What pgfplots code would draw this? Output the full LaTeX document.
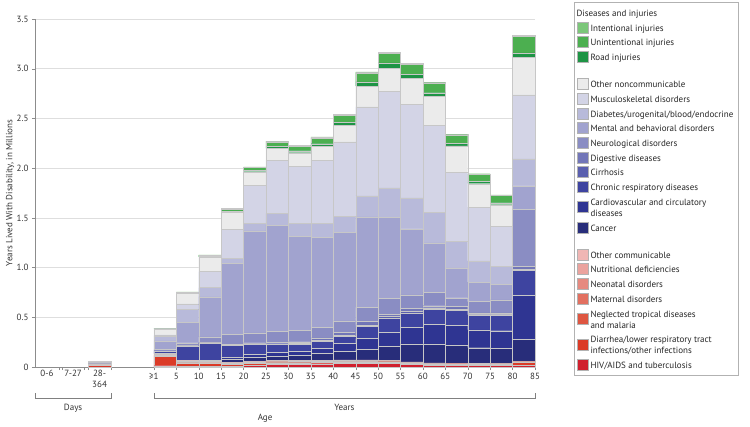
\documentclass[border=0pt]{standalone}
\usepackage{pgfplots}
\pgfplotsset{compat=1.18}
\usepackage{pgfplotstable}
\usepackage{fontspec}
\setmainfont{PT Sans}

\definecolor{cInt}{HTML}{7CC77A}
\definecolor{cUni}{HTML}{4CAF50}
\definecolor{cRoad}{HTML}{1E9445}
\definecolor{cOnc}{HTML}{EBEBEB}
\definecolor{cMus}{HTML}{D3D4E6}
\definecolor{cDia}{HTML}{B8BADA}
\definecolor{cMen}{HTML}{A1A3CF}
\definecolor{cNeu}{HTML}{8A8DC3}
\definecolor{cDig}{HTML}{7276B8}
\definecolor{cCir}{HTML}{5A5FAE}
\definecolor{cRes}{HTML}{3E44A0}
\definecolor{cCar}{HTML}{2F3592}
\definecolor{cCan}{HTML}{282D7A}
\definecolor{cOco}{HTML}{F0B6B4}
\definecolor{cNut}{HTML}{EBA39E}
\definecolor{cNeo}{HTML}{E68A80}
\definecolor{cMat}{HTML}{E27060}
\definecolor{cNtd}{HTML}{DE5641}
\definecolor{cDir}{HTML}{DB3B27}
\definecolor{cHiv}{HTML}{D0202E}

% YLD in millions, one row per age group (x = bar centre)
\pgfplotstableread{
x    hiv   diar  ntd   mat   neo   nut   ocom  canc  card  resp  cirr  dige  neur  ment  diab  musc  oncd  road  unin  inte
2.88 0.002 0.012 0.000 0.000 0.003 0.005 0.003 0.001 0.002 0.003 0.000 0.001 0.005 0.005 0.006 0.003 0.008 0.000 0.001 0.000
5.8  0.013 0.095 0.010 0.000 0.003 0.006 0.008 0.004 0.004 0.018 0.001 0.002 0.014 0.085 0.050 0.010 0.060 0.001 0.003 0.000
6.8  0.012 0.030 0.005 0.000 0.003 0.008 0.005 0.003 0.004 0.140 0.002 0.005 0.027 0.208 0.131 0.053 0.104 0.004 0.010 0.001
7.8  0.012 0.022 0.002 0.001 0.002 0.005 0.006 0.010 0.010 0.170 0.003 0.006 0.053 0.403 0.094 0.161 0.148 0.005 0.012 0.003
8.8  0.012 0.015 0.003 0.006 0.002 0.006 0.006 0.028 0.020 0.120 0.003 0.008 0.100 0.712 0.050 0.295 0.174 0.010 0.018 0.006
9.8  0.019 0.015 0.003 0.010 0.002 0.005 0.006 0.038 0.030 0.100 0.004 0.012 0.100 1.025 0.075 0.386 0.134 0.015 0.027 0.008
10.8 0.025 0.015 0.003 0.011 0.002 0.005 0.006 0.046 0.035 0.080 0.006 0.015 0.110 1.067 0.118 0.537 0.118 0.020 0.044 0.010
11.8 0.030 0.014 0.002 0.010 0.001 0.005 0.005 0.051 0.040 0.070 0.008 0.018 0.115 0.947 0.128 0.577 0.134 0.020 0.047 0.010
12.8 0.033 0.014 0.002 0.008 0.001 0.004 0.005 0.069 0.055 0.070 0.011 0.020 0.110 0.900 0.141 0.637 0.141 0.025 0.057 0.012
13.8 0.035 0.015 0.002 0.006 0.001 0.006 0.007 0.085 0.080 0.070 0.013 0.030 0.113 0.894 0.158 0.748 0.168 0.029 0.070 0.012
14.8 0.035 0.015 0.002 0.008 0.001 0.005 0.006 0.107 0.110 0.120 0.015 0.035 0.144 0.906 0.211 0.896 0.208 0.044 0.090 0.010
15.8 0.035 0.017 0.002 0.004 0.001 0.004 0.004 0.140 0.140 0.140 0.020 0.025 0.158 0.816 0.295 0.970 0.236 0.051 0.100 0.010
16.8 0.025 0.015 0.002 0.003 0.001 0.003 0.003 0.180 0.170 0.140 0.020 0.030 0.134 0.665 0.309 0.940 0.262 0.040 0.103 0.008
17.8 0.020 0.012 0.002 0.002 0.001 0.003 0.002 0.190 0.200 0.150 0.015 0.020 0.135 0.496 0.309 0.872 0.292 0.038 0.100 0.007
18.8 0.018 0.012 0.001 0.001 0.001 0.003 0.002 0.184 0.200 0.150 0.012 0.025 0.088 0.302 0.268 0.689 0.268 0.027 0.085 0.006
19.8 0.016 0.012 0.001 0.000 0.001 0.002 0.002 0.160 0.180 0.150 0.005 0.015 0.114 0.195 0.215 0.541 0.235 0.023 0.072 0.005
20.8 0.017 0.013 0.001 0.000 0.001 0.002 0.001 0.150 0.180 0.160 0.005 0.015 0.131 0.158 0.177 0.403 0.218 0.021 0.075 0.004
21.8 0.020 0.030 0.002 0.000 0.001 0.004 0.003 0.218 0.443 0.250 0.010 0.030 0.577 0.235 0.269 0.644 0.380 0.043 0.170 0.005
}\yld

\pgfplotsset{
  sq/.style={legend image code/.code={\draw[fill=#1,draw=black!30,line width=0.3pt] (0pt,-5.5pt) rectangle (11pt,5.5pt);}},
}
% struts for legend rows: one-line, first line, last line
\newcommand\st{\rule[-3.8pt]{0pt}{13pt}}
\newcommand\sta{\rule{0pt}{9.2pt}}
\newcommand\stb{\rule[-3.8pt]{0pt}{3.8pt}}

\begin{document}
\begin{tikzpicture}
\begin{axis}[
  scale only axis, width=500pt, height=348pt,
  xmin=0, xmax=22.3, ymin=0, ymax=3.5,
  ybar stacked, bar width=1,
  axis x line*=bottom, axis y line*=left,
  axis line style={black!45},
  tick style={black!45}, tick align=outside, major tick length=3pt,
  ytick={0,0.5,1,1.5,2,2.5,3,3.5},
  yticklabels={0,0.5,1.0,1.5,2.0,2.5,3.0,3.5},
  ymajorgrids, grid style={black!13, line width=0.5pt},
  xtick={1.07,1.2,2.19,2.37,3.39,5.3,6.3,7.3,8.3,9.3,10.3,11.3,12.3,13.3,14.3,15.3,16.3,17.3,18.3,19.3,20.3,21.3,22.3},
  xticklabels={,,,,,≥1,5,10,15,20,25,30,35,40,45,50,55,60,65,70,75,80,85},
  extra x ticks={0.535,1.7,2.88},
  extra x tick labels={0-6,7-27,{28-\\364}},
  extra x tick style={major tick length=0pt},
  xticklabel style={align=center},
  tick label style={font=\fontsize{9}{11}\selectfont, text=black!80},
  /pgf/number format/assume math mode=true,
  ylabel={Years Lived With Disability, in Millions},
  ylabel style={at={(axis description cs:-0.05,0.5)}, anchor=center, font=\fontsize{9}{11}\selectfont, text=black!80},
  clip=false,
  legend cell align=left,
  legend style={at={(1,1)}, anchor=north west, xshift=39pt, yshift=17pt,
    draw=black!30, inner sep=3pt, row sep=0pt,
    font=\fontsize{9}{11}\selectfont, text=black!85,
    nodes={inner sep=2pt, align=left},
    /tikz/every even column/.append style={column sep=12pt}},
]
\addlegendimage{empty legend}\addlegendentry{\hspace*{-14pt}\st Diseases and injuries}
\addlegendimage{sq=cInt}\addlegendentry{\st Intentional injuries}
\addlegendimage{sq=cUni}\addlegendentry{\st Unintentional injuries}
\addlegendimage{sq=cRoad}\addlegendentry{\st Road injuries}
\addlegendimage{empty legend}\addlegendentry{\rule{0pt}{7pt}}
\addlegendimage{sq=cOnc}\addlegendentry{\st Other noncommunicable}
\addlegendimage{sq=cMus}\addlegendentry{\st Musculoskeletal disorders}
\addlegendimage{sq=cDia}\addlegendentry{\st Diabetes/urogenital/blood/endocrine}
\addlegendimage{sq=cMen}\addlegendentry{\st Mental and behavioral disorders}
\addlegendimage{sq=cNeu}\addlegendentry{\st Neurological disorders}
\addlegendimage{sq=cDig}\addlegendentry{\st Digestive diseases}
\addlegendimage{sq=cCir}\addlegendentry{\st Cirrhosis}
\addlegendimage{sq=cRes}\addlegendentry{\st Chronic respiratory diseases}
\addlegendimage{sq=cCar}\addlegendentry{\sta Cardiovascular and circulatory\\diseases\stb}
\addlegendimage{sq=cCan}\addlegendentry{\st Cancer}
\addlegendimage{empty legend}\addlegendentry{\rule{0pt}{7pt}}
\addlegendimage{sq=cOco}\addlegendentry{\st Other communicable}
\addlegendimage{sq=cNut}\addlegendentry{\st Nutritional deficiencies}
\addlegendimage{sq=cNeo}\addlegendentry{\st Neonatal disorders}
\addlegendimage{sq=cMat}\addlegendentry{\st Maternal disorders}
\addlegendimage{sq=cNtd}\addlegendentry{\sta Neglected tropical diseases\\and malaria\stb}
\addlegendimage{sq=cDir}\addlegendentry{\sta Diarrhea/lower respiratory tract\\infections/other infections\stb}
\addlegendimage{sq=cHiv}\addlegendentry{\st HIV/AIDS and tuberculosis}

\pgfplotsset{every axis plot/.append style={draw=black!22, line width=0.25pt}}
\addplot[fill=cHiv] table[x=x, y=hiv] {\yld};
\addplot[fill=cDir] table[x=x, y=diar] {\yld};
\addplot[fill=cNtd] table[x=x, y=ntd] {\yld};
\addplot[fill=cMat] table[x=x, y=mat] {\yld};
\addplot[fill=cNeo] table[x=x, y=neo] {\yld};
\addplot[fill=cNut] table[x=x, y=nut] {\yld};
\addplot[fill=cOco] table[x=x, y=ocom] {\yld};
\addplot[fill=cCan] table[x=x, y=canc] {\yld};
\addplot[fill=cCar] table[x=x, y=card] {\yld};
\addplot[fill=cRes] table[x=x, y=resp] {\yld};
\addplot[fill=cCir] table[x=x, y=cirr] {\yld};
\addplot[fill=cDig] table[x=x, y=dige] {\yld};
\addplot[fill=cNeu] table[x=x, y=neur] {\yld};
\addplot[fill=cMen] table[x=x, y=ment] {\yld};
\addplot[fill=cDia] table[x=x, y=diab] {\yld};
\addplot[fill=cMus] table[x=x, y=musc] {\yld};
\addplot[fill=cOnc] table[x=x, y=oncd] {\yld};
\addplot[fill=cRoad] table[x=x, y=road] {\yld};
\addplot[fill=cUni] table[x=x, y=unin] {\yld};
\addplot[fill=cInt] table[x=x, y=inte] {\yld};

% age-group brackets under the axis
\draw[black!50, line width=0.5pt] ([yshift=-26pt]axis cs:0,0) -- ([yshift=-31pt]axis cs:0,0)
  -- ([yshift=-31pt]axis cs:3.39,0) -- ([yshift=-26pt]axis cs:3.39,0);
\draw[black!50, line width=0.5pt] ([yshift=-26pt]axis cs:5.3,0) -- ([yshift=-31pt]axis cs:5.3,0)
  -- ([yshift=-31pt]axis cs:22.3,0) -- ([yshift=-26pt]axis cs:22.3,0);
\node[font=\fontsize{9}{11}\selectfont, text=black!80] at ([yshift=-41pt]axis cs:1.7,0) {Days};
\node[font=\fontsize{9}{11}\selectfont, text=black!80] at ([yshift=-40pt]axis cs:13.8,0) {Years};
\node[font=\fontsize{9}{11}\selectfont, text=black!80] at ([yshift=-51pt]axis cs:10.26,0) {Age};
\end{axis}
\path (-35pt,-59pt) rectangle (715pt,367pt);
\end{tikzpicture}
\end{document}
